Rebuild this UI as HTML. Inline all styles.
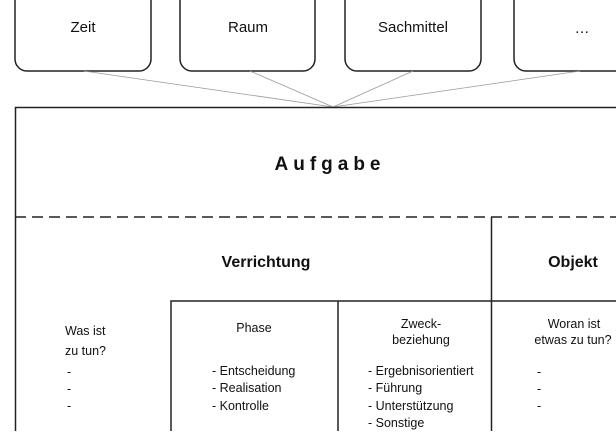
<!DOCTYPE html>
<html><head><meta charset="utf-8"><style>
body{margin:0;background:#fff;width:616px;height:431px;overflow:hidden}
svg text{font-family:"Liberation Sans",Arial,sans-serif;fill:#111}
</style></head><body>
<svg width="616" height="431" viewBox="0 0 616 431" xmlns="http://www.w3.org/2000/svg">
<g fill="#fff" stroke="#222" stroke-width="1.5">
<rect x="15" y="-20" width="136" height="91" rx="12"/>
<rect x="180" y="-20" width="135" height="91" rx="12"/>
<rect x="345" y="-20" width="136" height="91" rx="12"/>
<rect x="514" y="-20" width="200" height="91" rx="12"/>
</g>
<g stroke="#999" stroke-width="0.8">
<line x1="84" y1="71" x2="333" y2="107"/>
<line x1="250" y1="71" x2="333" y2="107"/>
<line x1="413" y1="71" x2="333" y2="107"/>
<line x1="580" y1="71" x2="333" y2="107"/>
</g>
<g stroke="#222" stroke-width="1.5" fill="none">
<path d="M15.5 440 V107.5 H620"/>
<line x1="15" y1="217" x2="616" y2="217" stroke-dasharray="11,6"/>
<line x1="491.5" y1="217" x2="491.5" y2="440"/>
<path d="M171 440 V301 H616"/>
<line x1="338" y1="301" x2="338" y2="440"/>
</g>
<g font-size="15" text-anchor="middle">
<text x="83" y="32">Zeit</text>
<text x="248" y="32">Raum</text>
<text x="413" y="32">Sachmittel</text>
<text x="582" y="33">…</text>
</g>
<text x="330" y="170" font-size="19" font-weight="bold" text-anchor="middle" letter-spacing="5">Aufgabe</text>
<text x="266" y="267" font-size="16" font-weight="bold" text-anchor="middle">Verrichtung</text>
<text x="573" y="267" font-size="16" font-weight="bold" text-anchor="middle">Objekt</text>
<g font-size="12.5">
<text x="65" y="335">Was ist</text>
<text x="65" y="355">zu tun?</text>
<text x="67" y="376">-</text><text x="67" y="393">-</text><text x="67" y="410">-</text>
<text x="254" y="332" text-anchor="middle">Phase</text>
<text x="212" y="375">- Entscheidung</text>
<text x="212" y="392">- Realisation</text>
<text x="212" y="410">- Kontrolle</text>
<text x="421" y="328" text-anchor="middle">Zweck-</text>
<text x="421" y="344" text-anchor="middle">beziehung</text>
<text x="368" y="375">- Ergebnisorientiert</text>
<text x="368" y="392">- Führung</text>
<text x="368" y="410">- Unterstützung</text>
<text x="368" y="427">- Sonstige</text>
<text x="574" y="328" text-anchor="middle">Woran ist</text>
<text x="573" y="344" text-anchor="middle">etwas zu tun?</text>
<text x="537" y="376">-</text><text x="537" y="393">-</text><text x="537" y="410">-</text>
</g>
</svg>
</body></html>
